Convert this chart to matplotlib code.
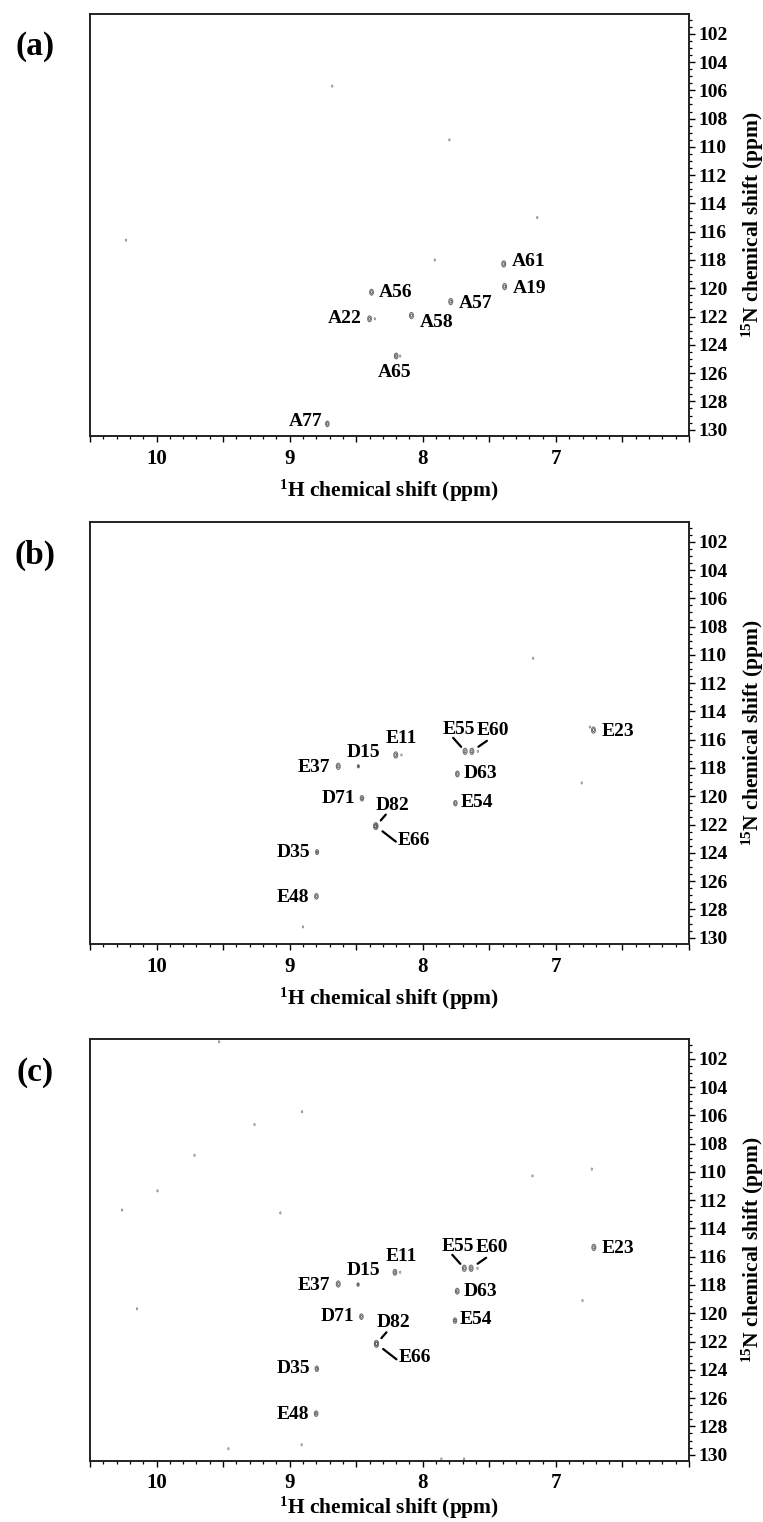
"""Three 1H-15N HSQC panels (a)-(c) with assigned backbone amide peaks."""
import matplotlib
matplotlib.use("Agg")
import matplotlib.pyplot as plt
from matplotlib.path import Path
from matplotlib.ticker import MultipleLocator, FuncFormatter

plt.rcParams["font.family"] = ["Liberation Serif", "DejaVu Serif"]
plt.rcParams["font.weight"] = "bold"
plt.rcParams["mathtext.fontset"] = "custom"
plt.rcParams["mathtext.rm"] = "Liberation Serif:bold"
plt.rcParams["mathtext.it"] = "Liberation Serif:bold"
plt.rcParams["mathtext.bf"] = "Liberation Serif:bold"

# ---- data (ppm) ----
# panel (a): Ala-labelled sample
labels_a = ["A61", "A19", "A56", "A57", "A22", "A58", "A65", "A77"]
h_a = [7.392, 7.385, 8.385, 7.790, 8.400, 8.085, 8.200, 8.717]
n_a = [118.28, 119.88, 120.28, 120.94, 122.16, 121.93, 124.79, 129.59]
int_a = [1.0, 1.0, 0.9, 1.0, 0.9, 1.0, 0.85, 0.8]
weak_h_a = [8.36, 8.17, 8.68, 7.80, 10.23, 7.14, 7.91]
weak_n_a = [122.16, 124.80, 105.7, 109.5, 116.6, 115.0, 118.0]

# panels (b) and (c): Asp/Glu-labelled samples
labels_de = ["E23", "E11", "D15", "E37", "E55", "E60", "D63",
             "D71", "E54", "D82", "E66", "D35", "E48"]
h_b = [6.718, 8.203, 8.484, 8.635, 7.682, 7.631, 7.740,
       8.457, 7.755, 8.353, 8.353, 8.794, 8.799]
n_b = [115.32, 117.08, 117.88, 117.88, 116.82, 116.82, 118.42,
       120.14, 120.49, 122.11, 122.11, 123.95, 127.08]
int_b = [1.0, 1.0, 0.25, 1.0, 1.0, 1.0, 0.85,
         0.75, 0.75, 1.1, 1.1, 0.6, 0.8]
weak_h_b = [8.16, 7.586, 7.171, 6.806, 8.90, 6.745]
weak_n_b = [117.08, 116.82, 110.24, 119.06, 129.24, 115.1]

h_c = [6.715, 8.209, 8.486, 8.635, 7.688, 7.637, 7.741,
       8.461, 7.758, 8.348, 8.348, 8.796, 8.801]
n_c = [115.34, 117.10, 117.97, 117.93, 116.82, 116.82, 118.44,
       120.24, 120.52, 122.16, 122.16, 123.93, 127.10]
int_c = [1.0, 0.9, 0.3, 1.0, 1.0, 1.0, 0.9,
         0.8, 0.75, 1.1, 1.1, 0.75, 0.8]
weak_h_c = [8.17, 7.589, 9.53, 8.907, 9.264, 9.715, 9.993, 10.26, 9.07,
            7.176, 6.73, 10.147, 6.80, 8.91, 9.46, 7.86, 7.69]
weak_n_c = [117.10, 116.82, 100.8, 105.74, 106.65, 108.83, 111.34, 112.7,
            112.9, 110.28, 109.8, 119.68, 119.1, 129.3, 129.58, 130.3, 130.3]

# ---- label layout: (ha, dx px, dy px downwards) ----
lay_a = {"A61": ("left", 8, -2), "A19": ("left", 8, 2), "A56": ("left", 7, 0),
         "A57": ("left", 8, 2), "A22": ("right", -8, 0), "A58": ("left", 8, 7),
         "A65": ("center", -2, 17), "A77": ("right", -5, -2)}
lay_de = {"E23": ("left", 8, 1), "E11": ("center", 6, -16),
          "D15": ("center", 5, -14), "E37": ("right", -8, 1),
          "E55": ("center", -6, -22), "E60": ("center", 21, -21),
          "D63": ("left", 6, 0), "D71": ("right", -7, 0),
          "E54": ("left", 5, -1), "D82": ("center", 17, -21),
          "E66": ("left", 22, 14), "D35": ("right", -7, 0),
          "E48": ("right", -7, 1)}
# leader lines: far-end offset (px, y down) and gap near the peak (px)
leaders = {"D82": (10, -11.5, 7.5), "E66": (20, 15.5, 8.5),
           "E55": (-12, -13.5, 6.0), "E60": (15, -10.5, 8.0)}

circ = Path.unit_circle()
peak_marker = Path(circ.vertices * [0.62, 1.0], circ.codes)

W, H = 763, 1522
fig = plt.figure(figsize=(W / 100, H / 100), dpi=100)


def panel(top_px, bottom_px, tag, labels, hs, ns, ints, wh, wn, lay, lead,
          xpad):
    ax = fig.add_axes([90 / W, 1 - bottom_px / H, 599 / W,
                       (bottom_px - top_px) / H])
    ax.set_xlim(10.5, 6.0)
    ax.set_ylim(130.45, 100.6)
    ax.scatter(wh, wn, s=2.5, marker=peak_marker, facecolors="none",
               edgecolors="#8a8a8a", linewidths=0.6)
    ax.scatter(hs, ns, s=[20 * v for v in ints], marker=peak_marker,
               facecolors="none", edgecolors="#707070", linewidths=0.8)
    ax.scatter(hs, ns, s=[5 * v for v in ints], marker=peak_marker,
               facecolors="none", edgecolors="#555555", linewidths=0.6)
    for lab, x, y in zip(labels, hs, ns):
        ha, dx, dy = lay[lab]
        ax.annotate(lab, (x, y), xytext=(dx, -dy), textcoords="offset pixels",
                    ha=ha, va="center", fontsize=14, fontweight="bold")
        if lab in lead:
            fx, fy, gap = lead[lab]
            ax.annotate("", (x, y), xytext=(fx, -fy),
                        textcoords="offset pixels",
                        arrowprops=dict(arrowstyle="-", lw=1.6, color="k",
                                        shrinkA=0, shrinkB=gap * 0.72))
    ax.xaxis.set_major_locator(MultipleLocator(0.5))
    ax.xaxis.set_minor_locator(MultipleLocator(0.1))
    ax.xaxis.set_major_formatter(FuncFormatter(
        lambda v, p: f"{v:.0f}" if abs(v - round(v)) < 1e-6 and 7 <= v <= 10 else ""))
    ax.yaxis.set_major_locator(MultipleLocator(2))
    ax.yaxis.set_minor_locator(MultipleLocator(0.5))
    ax.yaxis.tick_right()
    ax.yaxis.set_label_position("right")
    ax.tick_params(which="major", direction="out", length=4, width=1.0,
                   labelsize=14, pad=3)
    ax.tick_params(which="minor", direction="out", length=2.2, width=0.9)
    ax.tick_params(axis="x", which="major", labelsize=15, pad=5)
    for s in ax.spines.values():
        s.set_linewidth(1.4)
        s.set_color("#222222")
    ax.set_xlabel(r"$^{1}$H chemical shift (ppm)", fontsize=15.5,
                  fontweight="bold", labelpad=xpad)
    ax.set_ylabel(r"$^{15}$N chemical shift (ppm)", fontsize=15.5,
                  fontweight="bold", labelpad=8)
    fig.text(35 / W, 1 - (top_px + 33) / H, tag, fontsize=24,
             fontweight="bold", ha="center", va="center")
    return ax


panel(14, 436, "(a)", labels_a, h_a, n_a, int_a, weak_h_a, weak_n_a,
      lay_a, {}, 7)
panel(522, 944, "(b)", labels_de, h_b, n_b, int_b, weak_h_b, weak_n_b,
      lay_de, leaders, 7)
panel(1039, 1461, "(c)", labels_de, h_c, n_c, int_c, weak_h_c, weak_n_c,
      lay_de, leaders, 1)

fig.savefig("out.png", dpi=100)
